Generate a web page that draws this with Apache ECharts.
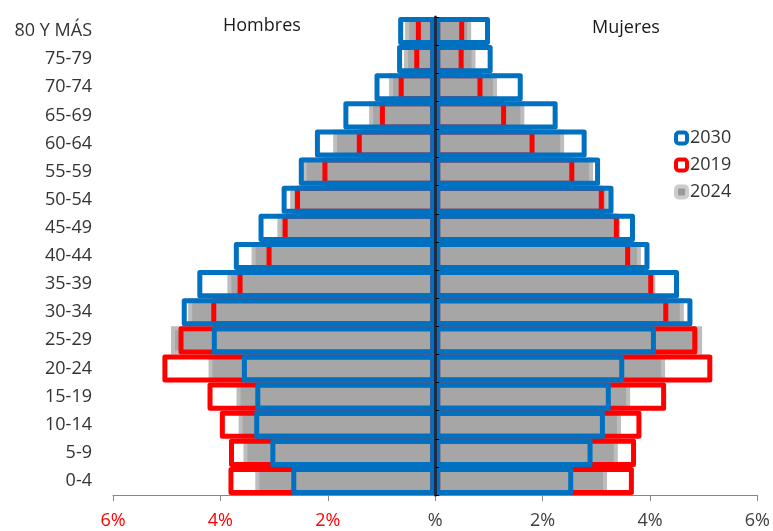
<!DOCTYPE html>
<html>
<head>
<meta charset="utf-8">
<script src="https://cdn.jsdelivr.net/npm/echarts@6/dist/echarts.min.js"></script>
<style>
html,body{margin:0;padding:0;background:#fff;}
#chart{width:773px;height:531px;}
</style>
</head>
<body>
<div id="chart"></div>
<script>
// Age groups, bottom to top
const categories = ['0-4','5-9','10-14','15-19','20-24','25-29','30-34','35-39','40-44','45-49','50-54','55-59','60-64','65-69','70-74','75-79','80 Y MÁS'];

// Hombres (percent, shown on the left side)
const men2030 = [2.68, 3.07, 3.37, 3.35, 3.60, 4.16, 4.72, 4.43, 3.75, 3.29, 2.86, 2.54, 2.24, 1.71, 1.13, 0.71, 0.69];
const men2019 = [3.85, 3.84, 4.01, 4.24, 5.08, 4.78, 4.17, 3.68, 3.14, 2.84, 2.61, 2.10, 1.46, 1.03, 0.68, 0.39, 0.36];
const men2024 = [3.35, 3.57, 3.66, 3.70, 4.22, 4.92, 4.60, 3.87, 3.42, 2.94, 2.70, 2.47, 1.90, 1.23, 0.86, 0.58, 0.56];

// Mujeres (percent, shown on the right side)
const women2030 = [2.57, 2.93, 3.16, 3.27, 3.52, 4.11, 4.79, 4.54, 3.99, 3.72, 3.32, 3.07, 2.82, 2.28, 1.63, 1.07, 1.02];
const women2019 = [3.70, 3.74, 3.84, 4.30, 5.16, 4.88, 4.34, 4.06, 3.63, 3.42, 3.14, 2.59, 1.85, 1.32, 0.88, 0.53, 0.54];
const women2024 = [3.20, 3.40, 3.46, 3.63, 4.28, 4.97, 4.63, 4.10, 3.83, 3.44, 3.24, 2.94, 2.40, 1.66, 1.15, 0.75, 0.67];

// x-axis tick labels from -6 to 6 step 2
const xTickValues = [-6, -4, -2, 0, 2, 4, 6];
const xTickLabels = ['6%', '4%', '2%', '%', '2%', '4%', '6%'];

const FONT = '"Open Sans", "Noto Sans", sans-serif';
const BLUE = '#0070C0', RED = '#FF0000', GRAY = '#A6A6A6', GRAYEDGE = '#BDBDBD';

function neg(arr){ return arr.map(v => -v); }

function barSeries(name, data, style, z){
  return {
    name: name, type: 'bar', data: data,
    xAxisIndex: 0, yAxisIndex: 0,
    barGap: '-100%', barCategoryGap: '0%',
    z: z,
    itemStyle: style,
    emphasis: {disabled: true},
    silent: true
  };
}

const grayStyle = {color: GRAY, borderColor: GRAYEDGE, borderWidth: 4};
const redStyle = {color: 'rgba(0,0,0,0)', borderColor: RED, borderWidth: 5, borderJoin: 'round'};
const blueStyle = {color: 'rgba(0,0,0,0)', borderColor: BLUE, borderWidth: 5, borderJoin: 'round'};

const chart = echarts.init(document.getElementById('chart'), null, {renderer: 'canvas'});
chart.setOption({
  animation: false,
  backgroundColor: '#fff',
  textStyle: {fontFamily: FONT},
  grid: {left: 113, right: 15, top: 17, bottom: 36, containLabel: false},
  xAxis: {
    type: 'value', min: -6, max: 6, interval: 2,
    axisLine: {show: true, onZero: false, lineStyle: {color: '#868686', width: 1}},
    axisTick: {show: true, length: 6, lineStyle: {color: '#868686'}},
    splitLine: {show: false},
    axisLabel: {
      fontFamily: FONT, fontSize: 18, margin: 17,
      formatter: function(v){ const i = xTickValues.indexOf(v); return i >= 0 ? xTickLabels[i] : ''; },
      color: function(v){ return Number(v) < 0 ? RED : '#404040'; }
    }
  },
  yAxis: [
    {
      type: 'category', data: categories, position: 'left',
      axisLine: {show: false, onZero: false},
      axisTick: {show: false},
      axisLabel: {fontFamily: FONT, fontSize: 18, color: '#333333', margin: 21}
    },
    {
      type: 'category', data: categories, position: 'right', z: 10,
      axisLine: {show: true, onZero: true, lineStyle: {color: '#1c2c48', width: 3}},
      axisTick: {show: true, length: 4, lineStyle: {color: '#000', width: 1}},
      axisLabel: {show: false}
    }
  ],
  legend: {
    orient: 'vertical', left: 669, top: 124,
    itemWidth: 11, itemHeight: 11, itemGap: 9,
    icon: 'roundRect',
    textStyle: {fontFamily: FONT, fontSize: 18, color: '#333333', padding: [0,0,0,-2]},
    selectedMode: false,
    data: [
      {name: '2030', itemStyle: {color: '#fff', borderColor: BLUE, borderWidth: 4}},
      {name: '2019', itemStyle: {color: '#fff', borderColor: RED, borderWidth: 4}},
      {name: '2024', itemStyle: {color: '#9a9a9a', borderColor: '#cccccc', borderWidth: 4}}
    ]
  },
  graphic: [
    {type: 'text', left: 223, top: 17, style: {text: 'Hombres', font: '18px ' + FONT, fill: '#1a1a1a'}},
    {type: 'text', left: 592, top: 19, style: {text: 'Mujeres', font: '18px ' + FONT, fill: '#1a1a1a'}}
  ],
  series: [
    barSeries('2024', neg(men2024), grayStyle, 2),
    barSeries('2024', women2024, grayStyle, 2),
    barSeries('2019', neg(men2019), redStyle, 3),
    barSeries('2019', women2019, redStyle, 3),
    barSeries('2030', neg(men2030), blueStyle, 4),
    barSeries('2030', women2030, blueStyle, 4)
  ]
});
</script>
</body>
</html>
